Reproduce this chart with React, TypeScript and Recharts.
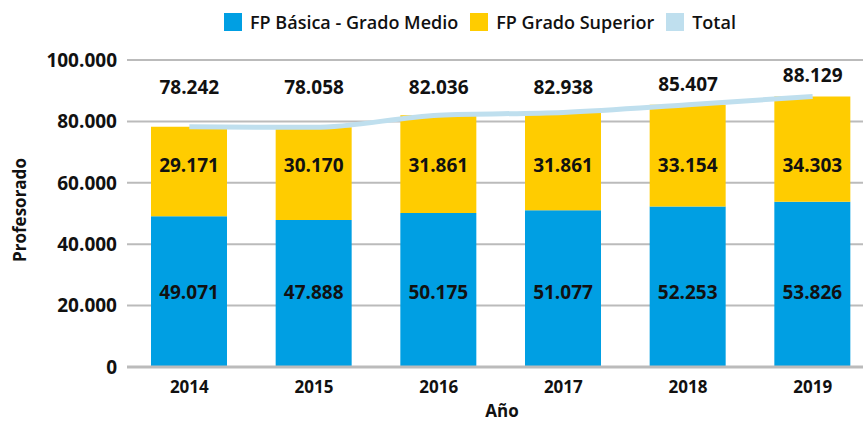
import { ComposedChart, Bar, Line, XAxis, YAxis, CartesianGrid, LabelList, Label } from "recharts"

const years = ["2014", "2015", "2016", "2017", "2018", "2019"]
const basicaMedio = [49071, 47888, 50175, 51077, 52253, 53826]
const superior = [29171, 30170, 31861, 31861, 33154, 34303]
const total = [78242, 78058, 82036, 82938, 85407, 88129]
const yTicks = [0, 20000, 40000, 60000, 80000, 100000]

const BLUE = "#009FE3"
const YELLOW = "#FFCC00"
const LIGHT = "#BFDFEE"
const FONT = "'Open Sans', sans-serif"

const data = years.map((year, i) => ({
  year,
  basicaMedio: basicaMedio[i],
  superior: superior[i],
  total: total[i],
}))

const fmt = (v: number) => String(v).replace(/\B(?=(\d{3})+(?!\d))/g, ".")

// plot geometry (used only to place the label rows)
const TOP = 60
const PLOT_H = 307
const yOf = (v: number) => TOP + (1 - v / 100000) * PLOT_H

const rowLabel = (rowValue: number) => (props: any) => {
  const { x, width, value } = props
  return (
    <text
      x={Number(x) + Number(width) / 2}
      y={yOf(rowValue)}
      textAnchor="middle"
      dominantBaseline="central"
      fontFamily={FONT}
      fontWeight={700}
      fontSize={19}
      fill="#111"
    >
      {fmt(Number(value))}
    </text>
  )
}

const totalLabel = (props: any) => {
  const { x, y, value } = props
  const ly = Math.min(yOf(91300), Number(y) - 21)
  return (
    <text
      x={Number(x)}
      y={ly}
      textAnchor="middle"
      dominantBaseline="central"
      fontFamily={FONT}
      fontWeight={700}
      fontSize={19}
      fill="#111"
    >
      {fmt(Number(value))}
    </text>
  )
}

const legendItems = [
  { name: "FP Básica - Grado Medio", color: BLUE },
  { name: "FP Grado Superior", color: YELLOW },
  { name: "Total", color: LIGHT },
]

export default function App() {
  return (
    <div style={{ position: "absolute", left: 0, top: 0, width: 863, height: 421, overflow: "hidden", background: "#fff" }}>
      <div
        style={{
          position: "absolute",
          top: 10,
          left: 224,
          display: "flex",
          alignItems: "center",
          fontFamily: FONT,
          fontWeight: 600,
          fontSize: 18,
          color: "#111",
        }}
      >
        {legendItems.map((it) => (
          <div key={it.name} style={{ display: "flex", alignItems: "center", marginRight: 12 }}>
            <span style={{ width: 18, height: 18, background: it.color, display: "inline-block", marginRight: 8 }} />
            <span>{it.name}</span>
          </div>
        ))}
      </div>
      <ComposedChart width={875} height={421} data={data} margin={{ top: TOP, right: 0, left: 0, bottom: 14 }}>
        <CartesianGrid vertical={false} stroke="#BBBBBB" strokeWidth={2} />
        <XAxis
          dataKey="year"
          height={40}
          tickLine={false}
          axisLine={{ stroke: "#BBBBBB", strokeWidth: 3 }}
          tickMargin={8}
          tick={{ fontFamily: FONT, fontWeight: 700, fontSize: 17, fill: "#111" }}
        >
          <Label
            content={() => (
              <text x={502} y={417} textAnchor="middle" fontFamily={FONT} fontWeight={700} fontSize={17} fill="#111">
                Año
              </text>
            )}
          />
        </XAxis>
        <YAxis
          width={127}
          domain={[0, 100000]}
          ticks={yTicks}
          tickFormatter={fmt}
          tickLine={false}
          axisLine={false}
          tickMargin={4}
          tick={{ fontFamily: FONT, fontWeight: 700, fontSize: 19, fill: "#111" }}
        >
          <Label
            content={() => (
              <text
                x={19}
                y={210}
                transform="rotate(-90 19 210)"
                textAnchor="middle"
                dominantBaseline="central"
                fontFamily={FONT}
                fontWeight={700}
                fontSize={17}
                fill="#111"
              >
                Profesorado
              </text>
            )}
          />
        </YAxis>
        <Bar dataKey="basicaMedio" stackId="a" fill={BLUE} barSize={76} isAnimationActive={false}>
          <LabelList dataKey="basicaMedio" content={rowLabel(24400)} />
        </Bar>
        <Bar dataKey="superior" stackId="a" fill={YELLOW} barSize={76} isAnimationActive={false}>
          <LabelList dataKey="superior" content={rowLabel(65800)} />
        </Bar>
        <Line
          dataKey="total"
          type="monotone"
          stroke={LIGHT}
          strokeWidth={5}
          dot={false}
          isAnimationActive={false}
        >
          <LabelList dataKey="total" content={totalLabel} />
        </Line>
      </ComposedChart>
    </div>
  )
}
